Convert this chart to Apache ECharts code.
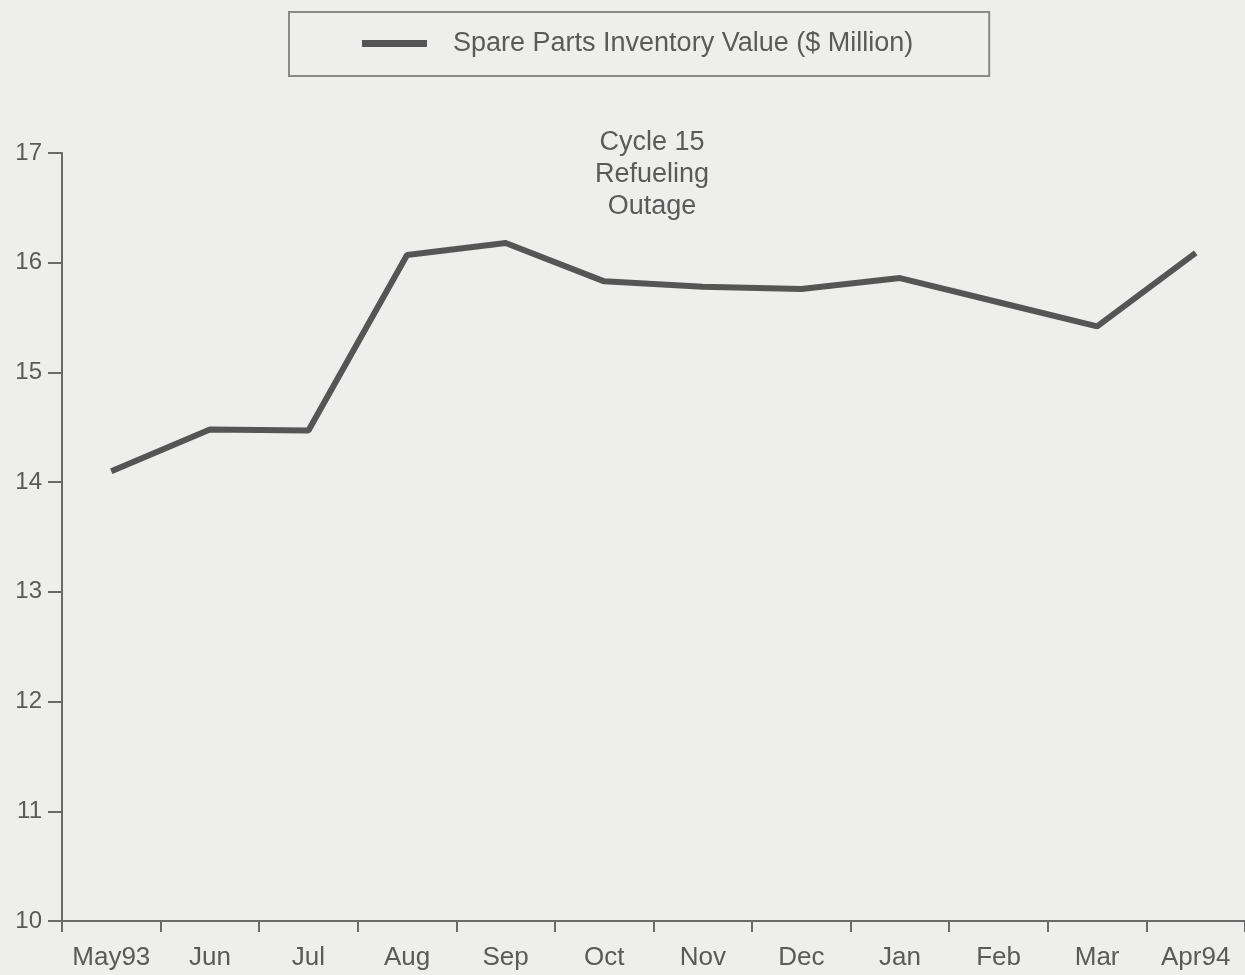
<!DOCTYPE html>
<html>
<head>
<meta charset="utf-8">
<script src="https://cdn.jsdelivr.net/npm/echarts@6/dist/echarts.min.js"></script>
<style>
html,body{margin:0;padding:0;background:#eeeeec;}
#chart{width:1245px;height:975px;}
</style>
</head>
<body>
<div id="chart"></div>
<script>
const categories = ['May93','Jun','Jul','Aug','Sep','Oct','Nov','Dec','Jan','Feb','Mar','Apr94'];
const inventoryValues = [14.10, 14.48, 14.47, 16.07, 16.18, 15.83, 15.78, 15.76, 15.86, 15.64, 15.42, 16.09];
const seriesName = 'Spare Parts Inventory Value ($ Million)';
const annotationText = 'Cycle 15\nRefueling\nOutage';
const yMin = 10, yMax = 17, yInterval = 1;

const font = '"Liberation Sans", Arial, Helvetica, sans-serif';
const textColor = '#5a5a5a';
const chart = echarts.init(document.getElementById('chart'));
chart.setOption({
  backgroundColor: '#eeeeec',
  animation: false,
  legend: {
    left: 289, top: 12,
    padding: [18, 76, 19, 73],
    borderColor: '#8a8a8a',
    borderWidth: 2,
    itemWidth: 65, itemHeight: 7,
    icon: 'rect',
    textStyle: {fontFamily: font, fontSize: 27, color: textColor, padding: [0,0,0,21]},
    data: [seriesName]
  },
  grid: {left: 62, right: 0, top: 153, bottom: 54, containLabel: false},
  xAxis: {
    type: 'category',
    data: categories,
    boundaryGap: true,
    axisLine: {lineStyle: {color: '#6a6a6a', width: 2}},
    axisTick: {show: true, length: 11, interval: 0, alignWithLabel: false, lineStyle: {color: '#6a6a6a', width: 2}},
    axisLabel: {fontFamily: font, fontSize: 26, color: textColor, margin: 24, interval: 0, hideOverlap: false},
    splitLine: {show: false}
  },
  yAxis: {
    type: 'value',
    min: yMin, max: yMax, interval: yInterval,
    axisLine: {show: true, lineStyle: {color: '#6a6a6a', width: 2}},
    axisTick: {show: true, length: 14, lineStyle: {color: '#6a6a6a', width: 2}},
    axisLabel: {fontFamily: font, fontSize: 24, color: textColor, margin: 20},
    splitLine: {show: false}
  },
  graphic: [{
    type: 'text',
    x: 652, y: 127,
    style: {
      text: annotationText,
      fontFamily: font, fontSize: 27, lineHeight: 32,
      fill: textColor, align: 'center', verticalAlign: 'top'
    }
  }],
  series: [{
    name: seriesName,
    type: 'line',
    data: inventoryValues,
    symbol: 'none',
    lineStyle: {color: '#555555', width: 6},
    itemStyle: {color: '#555555'}
  }]
});
</script>
</body>
</html>
